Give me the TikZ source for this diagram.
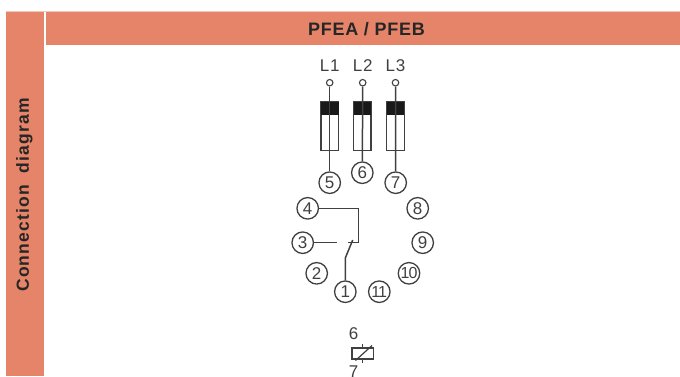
\documentclass[tikz,border=0pt]{standalone}
\usepackage{fontspec}
\setmainfont{Liberation Sans}
\definecolor{band}{HTML}{E58468}
\definecolor{ink}{HTML}{404040}
\begin{document}
\begin{tikzpicture}[x=1pt,y=-1pt,
  wire/.style={draw=ink,line width=1.5pt},
  pin/.style={circle,draw=ink,line width=1.3pt,minimum size=21.5pt,inner sep=0pt,font=\fontsize{17}{17}\selectfont,text=ink},
  pinsmall/.style={pin,font=\fontsize{16}{16}\selectfont\addfontfeature{LetterSpace=-6}},
  term/.style={circle,draw=ink,line width=1.1pt,minimum size=6.5pt,inner sep=0pt},
  lab/.style={inner sep=0pt,font=\fontsize{17}{17}\selectfont\addfontfeature{LetterSpace=5},text=ink},
  fuse/.style={draw=ink,line width=1.3pt,minimum width=17.5pt,minimum height=49pt,inner sep=0pt},
  fusecap/.style={fill=black!90,minimum width=17.5pt,minimum height=13.5pt,inner sep=0pt},
  hdr/.style={inner sep=0pt,text=black!85}]
\useasboundingbox (0,0) rectangle (680,376);
\fill[band!45] (6,11) rectangle (680,12);
\fill[band] (6,12) rectangle (44,376);
\fill[band] (46,12) rectangle (680,45);
\node[hdr,font=\bfseries\fontsize{18}{18}\selectfont\addfontfeature{LetterSpace=4}] (title) at (366.5,29) {PFEA / PFEB};
\node[hdr,rotate=90,font=\bfseries\fontsize{17.5}{17.5}\selectfont\addfontfeature{LetterSpace=6.5}] (side) at (24.5,195) {Connection\ \ diagram};
% terminals
\foreach \n/\t/\x in {a/L1/329.7,b/L2/362.7,c/L3/395.5}{
  \node[lab] (lab\n) at (\x,66) {\t};
  \node[term] (t\n) at (\x,82.7) {};
}
\node[fuse] (fa) at (329.8,126.2) {};
\node[fuse] (fb) at (362.3,126.2) {};
\node[fuse] (fc) at (395.5,126.2) {};
\node[fusecap] (ca) at (329.8,108.5) {};
\node[fusecap] (cb) at (362.3,108.5) {};
\node[fusecap] (cc) at (395.5,108.5) {};
% pins
\node[pin] (p5) at (329.7,182.7) {5};
\node[pin] (p6) at (362.3,172.7) {6};
\node[pin] (p7) at (395.7,182.7) {7};
\node[pin] (p4) at (307.7,208.3) {4};
\node[pin] (p8) at (417.7,208.3) {8};
\node[pin] (p3) at (302.7,242.7) {3};
\begin{scope}
\clip (400,225) rectangle (434,260);
\node[pin] (p9) at (422.7,242.7) {9};
\end{scope}
\node[pin] (p2) at (316.7,273.3) {2};
\node[pinsmall] (p10) at (409,273.3) {10};
\node[pin] (p1) at (345.3,291.7) {1};
\node[pinsmall] (p11) at (379.3,291.7) {11};
% fuse wires
\draw[wire] (ta) -- (p5);
\draw[wire] (tb) -- (p6);
\draw[wire] (tc) -- (p7);
% contact
\coordinate (rc) at (358.7,208.3);
\coordinate (rd) at (358.7,242.7);
\coordinate (re) at (348,242.7);
\coordinate (tip) at (337.3,242.7);
\coordinate (kn) at (345.3,258);
\coordinate (arm) at (352.7,240);
\draw[wire] (p4) -- (rc) -- (rd) -- (re);
\draw[wire] (p3) -- (tip);
\draw[wire] (p1) -- (kn) -- (arm);
% coil
\node[lab] (six) at (353.5,333.5) {6};
\node[draw=ink,line width=1.5pt,minimum width=21.5pt,minimum height=11pt,inner sep=0pt] (coil) at (362.8,353.5) {};
\coordinate (ct) at (362.8,344);
\coordinate (cb2) at (362.8,363);
\coordinate (da) at (355.5,360.5);
\coordinate (db) at (372,345.5);
\draw[wire,line width=1.2pt] (ct) -- (coil.north);
\draw[wire,line width=1.2pt] (coil.south) -- (cb2);
\draw[wire,line width=1.2pt] (da) -- (db);
\node[lab,anchor=north] (seven) at (353.5,366) {7};
\end{tikzpicture}
\end{document}
